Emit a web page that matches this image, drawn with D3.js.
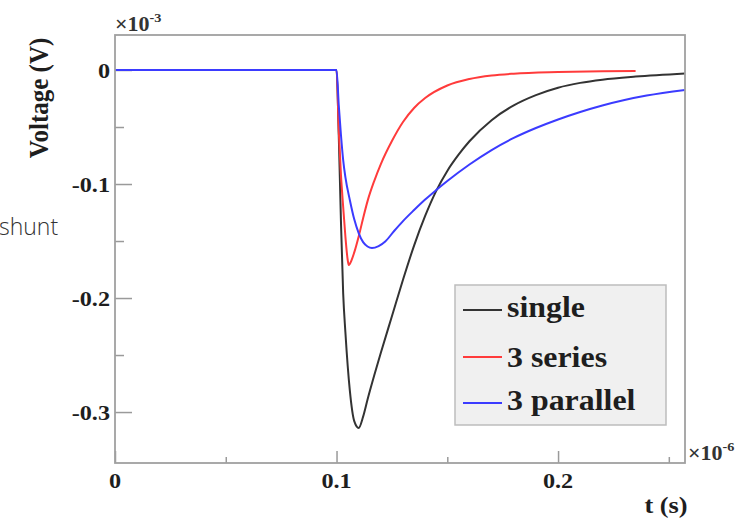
<!DOCTYPE html>
<html>
<head>
<meta charset="utf-8">
<script src="https://cdn.jsdelivr.net/npm/d3@7"></script>
<style>
  html, body { margin: 0; padding: 0; background: #fff; }
  svg { display: block; }
</style>
</head>
<body>
<svg id="chart" width="744" height="523"></svg>
<script>
// Time in units of 1e-6 s, voltage in units of 1e-3 V
const singleT = [0, 0.100, 0.101, 0.102, 0.103, 0.104, 0.106, 0.108, 0.110, 0.112, 0.114, 0.117, 0.120, 0.125, 0.130, 0.135, 0.140, 0.145, 0.150, 0.155, 0.160, 0.170, 0.180, 0.190, 0.200, 0.210, 0.220, 0.235, 0.2573];
const singleV = [0, 0, -0.057, -0.133, -0.196, -0.230, -0.281, -0.308, -0.314, -0.304, -0.289, -0.268, -0.248, -0.216, -0.184, -0.154, -0.128, -0.106, -0.0885, -0.0745, -0.0625, -0.044, -0.031, -0.022, -0.0155, -0.0113, -0.0085, -0.0058, -0.0030];

const seriesT = [0, 0.100, 0.101, 0.102, 0.103, 0.104, 0.105, 0.1055, 0.106, 0.108, 0.110, 0.112, 0.114, 0.117, 0.120, 0.125, 0.130, 0.135, 0.140, 0.150, 0.160, 0.170, 0.180, 0.200, 0.220, 0.235];
const seriesV = [0, 0, -0.053, -0.092, -0.120, -0.146, -0.166, -0.171, -0.170, -0.160, -0.146, -0.130, -0.115, -0.0974, -0.0825, -0.0623, -0.0456, -0.0333, -0.0246, -0.0136, -0.0079, -0.0048, -0.0032, -0.0018, -0.0011, -0.0009];

const parallelT = [0, 0.100, 0.101, 0.102, 0.103, 0.104, 0.106, 0.108, 0.110, 0.112, 0.114, 0.116, 0.119, 0.122, 0.126, 0.130, 0.135, 0.140, 0.145, 0.150, 0.160, 0.170, 0.180, 0.190, 0.200, 0.210, 0.220, 0.230, 0.240, 0.2573];
const parallelV = [0, 0, -0.0307, -0.057, -0.079, -0.094, -0.114, -0.131, -0.143, -0.151, -0.1548, -0.1561, -0.1544, -0.1504, -0.1412, -0.1325, -0.1228, -0.1136, -0.1053, -0.0974, -0.0829, -0.0702, -0.0596, -0.0509, -0.0434, -0.0368, -0.0311, -0.0263, -0.0224, -0.0175];

const seriesNames = ["single", "3 series", "3 parallel"];
const seriesColors = ["#333333", "#ff3b3b", "#3b3bff"];

const xMajorTicks = [0, 0.1, 0.2];
const xMinorTicks = [0.05, 0.15, 0.25];
const yMajorTicks = [0, -0.1, -0.2, -0.3];
const yMinorTicks = [-0.05, -0.15, -0.25];

const frame = { left: 115, right: 685, top: 35, bottom: 463 };

const x = d3.scaleLinear().domain([0, 0.2573]).range([frame.left, frame.right]);
const y = d3.scaleLinear().domain([0.0307, -0.3447]).range([frame.top, frame.bottom]);

const svg = d3.select("#chart");
const serif = "'Liberation Serif', 'DejaVu Serif', serif";
const widen = 1.1; // slightly wide glyphs for the serif labels

// Plain hyphen minus sign, one decimal
const fmt = d => d === 0 ? "0" : (d < 0 ? "-" : "") + Math.abs(d).toFixed(1);

function label(parent, px, py, txt, size, anchor) {
  return parent.append("text")
    .attr("transform", `translate(${px},${py}) scale(${widen},1)`)
    .attr("text-anchor", anchor || "start")
    .attr("font-family", serif).attr("font-weight", "bold").attr("font-size", size)
    .attr("fill", "#1e1e1e")
    .text(txt);
}

// Axes with inward ticks; the frame is drawn on its own
const xAxis = svg.append("g").attr("transform", `translate(0,${frame.bottom})`)
  .call(d3.axisTop(x).tickValues(xMajorTicks).tickSize(12).tickFormat(""));
const xAxisMinor = svg.append("g").attr("transform", `translate(0,${frame.bottom})`)
  .call(d3.axisTop(x).tickValues(xMinorTicks).tickSize(6).tickFormat(""));
const yAxis = svg.append("g").attr("transform", `translate(${frame.left},0)`)
  .call(d3.axisRight(y).tickValues(yMajorTicks).tickSize(17).tickFormat(""));
const yAxisMinor = svg.append("g").attr("transform", `translate(${frame.left},0)`)
  .call(d3.axisRight(y).tickValues(yMinorTicks).tickSize(9).tickFormat(""));

[xAxis, xAxisMinor, yAxis, yAxisMinor].forEach(g => {
  g.select(".domain").remove();
  g.selectAll(".tick line").attr("stroke", "#9a9a9a").attr("stroke-width", 1.5);
});

// Tick labels
const xLabels = svg.append("g");
xMajorTicks.forEach(d => label(xLabels, x(d), frame.bottom + 25, fmt(d), 22, "middle"));
const yLabels = svg.append("g");
yMajorTicks.forEach(d => label(yLabels, frame.left - 5, y(d) + 8, fmt(d), 22, "end"));

// Curves
const line = d3.line().x(d => x(d[0])).y(d => y(d[1])).curve(d3.curveMonotoneX);
const seriesData = [
  d3.zip(singleT, singleV),
  d3.zip(seriesT, seriesV),
  d3.zip(parallelT, parallelV)
];

svg.append("g").selectAll("path").data(seriesData).join("path")
  .attr("d", line)
  .attr("fill", "none")
  .attr("stroke", (d, i) => seriesColors[i])
  .attr("stroke-width", 2)
  .attr("stroke-linejoin", "round");

// Frame
svg.append("rect")
  .attr("x", frame.left).attr("y", frame.top)
  .attr("width", frame.right - frame.left).attr("height", frame.bottom - frame.top)
  .attr("fill", "none").attr("stroke", "#a0a0a0").attr("stroke-width", 1.8);

// Exponent labels
const expY = label(svg, frame.left, 31, "", 20, "start").attr("fill", "#333");
expY.append("tspan").text("×10");
expY.append("tspan").attr("dy", -9).attr("font-size", 13).text("-3");

const expX = label(svg, frame.right + 3, frame.bottom - 3, "", 20, "start").attr("fill", "#333");
expX.append("tspan").text("×10");
expX.append("tspan").attr("dy", -9).attr("font-size", 13).text("-6");

// Axis titles
svg.append("text")
  .attr("transform", `translate(48,98) rotate(-90) scale(1,${widen})`)
  .attr("text-anchor", "middle")
  .attr("font-family", serif).attr("font-weight", "bold").attr("font-size", 25)
  .attr("fill", "#1e1e1e")
  .text("Voltage (V)");

label(svg, 666, 513, "t (s)", 24, "middle");

// Legend
const legend = svg.append("g");
legend.append("rect")
  .attr("x", 455).attr("y", 285).attr("width", 211).attr("height", 140)
  .attr("fill", "#f0f0f0").attr("stroke", "#bdbdbd").attr("stroke-width", 1.5);
const rowY = [310, 357, 403];
const rowBaseline = [317, 367, 410];
seriesNames.forEach((name, i) => {
  legend.append("line")
    .attr("x1", 463).attr("x2", 502).attr("y1", rowY[i]).attr("y2", rowY[i])
    .attr("stroke", seriesColors[i]).attr("stroke-width", 2);
  label(legend, 507, rowBaseline[i], name, 29, "start");
});

// Side caption
svg.append("text")
  .attr("x", -1).attr("y", 235)
  .attr("font-family", "'Open Sans', sans-serif").attr("font-weight", 300).attr("font-size", 23)
  .attr("fill", "#333")
  .text("shunt");
</script>
</body>
</html>
